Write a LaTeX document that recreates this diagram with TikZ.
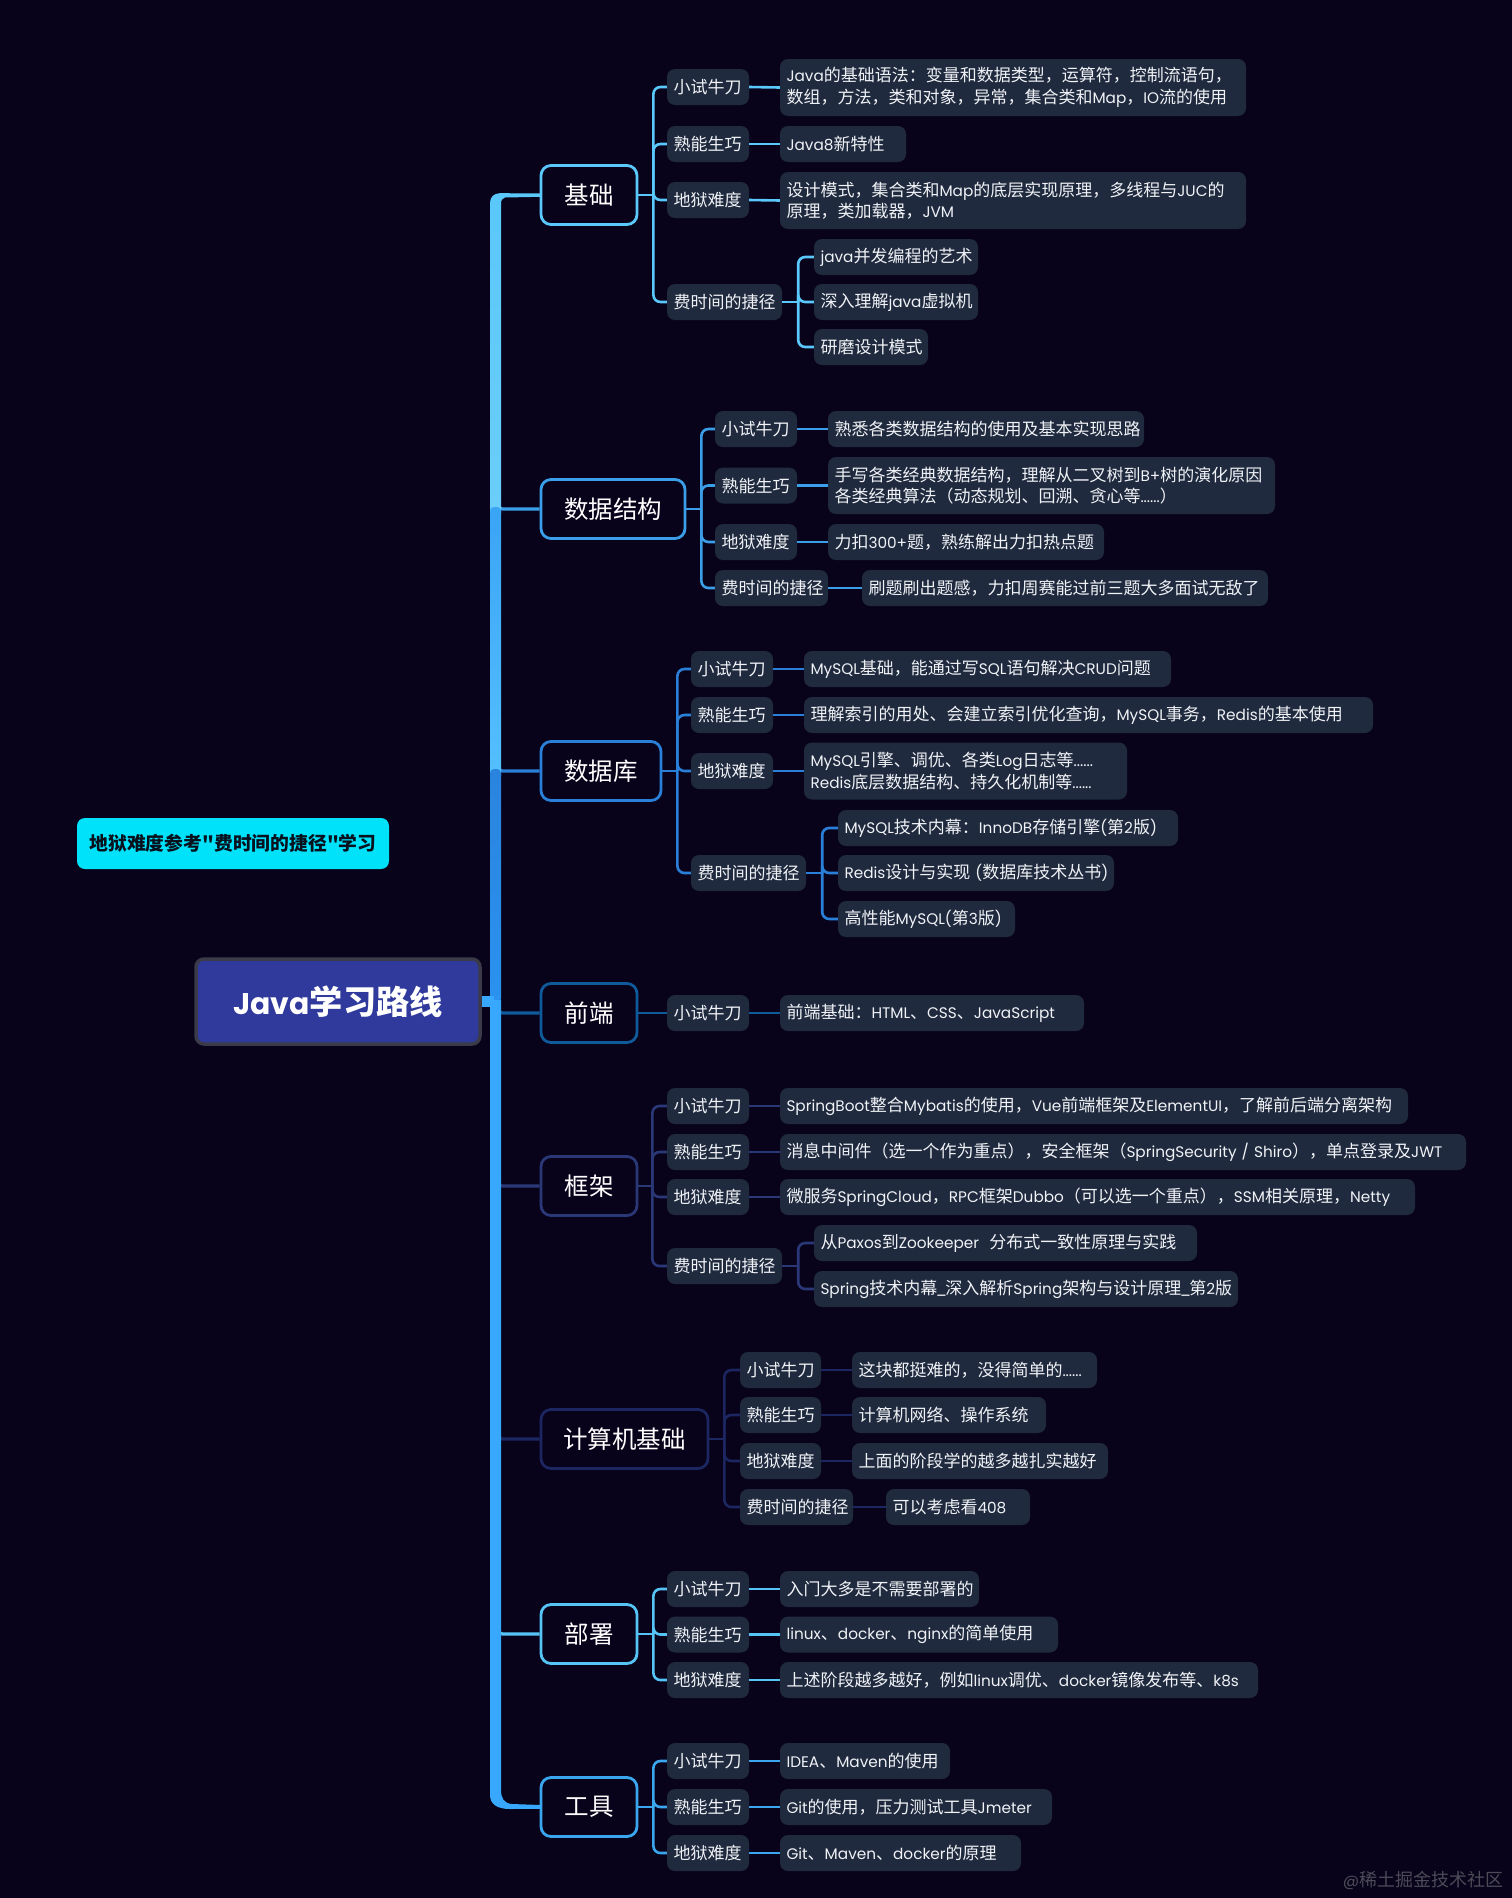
\documentclass[tikz,border=0pt]{standalone}
\usepackage{fontspec}
\setmainfont{Poppins}[Scale=0.9]
\newfontfamily\latfont{Poppins}[Scale=0.9]
\newfontfamily\cjkfont{Noto Sans CJK SC}
\newXeTeXintercharclass\cjkclass
\newcount\cjkc
\def\cjkrange#1#2{\cjkc=#1\relax\loop\XeTeXcharclass\cjkc=\cjkclass\relax\ifnum\cjkc<#2\relax\advance\cjkc by 1\relax\repeat}
\cjkrange{"4E00}{"9FFF}
\cjkrange{"3000}{"303F}
\cjkrange{"FF00}{"FFEF}
\XeTeXcharclass`\"=\cjkclass
\XeTeXinterchartoks 0 \cjkclass = {\cjkfont}
\XeTeXinterchartoks 4095 \cjkclass = {\cjkfont}
\XeTeXinterchartoks \cjkclass 0 = {\latfont}
\XeTeXinterchartoks \cjkclass 4095 = {\latfont}
\XeTeXinterchartoks 4095 0 = {\latfont}
\XeTeXinterchartokenstate=1
\newcommand{\usc}{\makebox[8pt]{\latfont\_}}
\definecolor{bgc}{HTML}{08021A}
\definecolor{subc}{HTML}{1F2A3E}
\definecolor{txtc}{HTML}{F0F2F6}
\definecolor{cA}{HTML}{5AC8FA}
\definecolor{cB}{HTML}{3A9FE8}
\definecolor{cC}{HTML}{2A7FD8}
\definecolor{cD}{HTML}{0F5A9A}
\definecolor{cE}{HTML}{2A3878}
\definecolor{cF}{HTML}{1C2660}
\definecolor{cG}{HTML}{55C4F5}
\definecolor{cH}{HTML}{3AA6EE}
\definecolor{tr}{HTML}{38A8FF}
\definecolor{segBa}{HTML}{3AA4F5}
\definecolor{segBb}{HTML}{55C0FF}
\definecolor{segCa}{HTML}{2A84DE}
\definecolor{segCb}{HTML}{2A92F0}
\definecolor{rootC}{HTML}{2F3A9C}
\definecolor{rootB}{HTML}{3A3A48}
\definecolor{noteC}{HTML}{00E2FA}
\definecolor{noteT}{HTML}{08121E}
\definecolor{wmC}{HTML}{4C4C58}
\tikzset{
 x=1pt,y=-1pt,
 topicbox/.style={rounded corners=10pt,line width=2.8pt,fill=bgc,text=white,inner sep=0pt,minimum height=59pt,font=\fontsize{24.5}{30}\selectfont},
 subbox/.style={rounded corners=8pt,fill=subc,text=txtc,inner sep=0pt,minimum height=36pt,align=left,font=\fontsize{17}{21.5}\selectfont},
 link/.style={line width=2.6pt},
 elbow/.style={line width=2.6pt,rounded corners=7pt},
 branch/.style={line width=3.2pt,rounded corners=5pt},
}
\newcommand{\topic}[6]{\node[topicbox,draw=#1,minimum width={#4-#3}] (#2) at ({(#3+#4)/2},#5) {#6};}
\newcommand{\sub}[6]{\node[subbox,minimum width={#3-#2},text width={#3-#2-13},minimum height=#6] (#1) at ({(#2+#3)/2},#4) {#5};}
\newcommand{\subb}[5]{\sub{#1}{#2}{#3}{#4}{#5}{36pt}}
\newcommand{\conn}[4]{\draw[link,#1] (#2.east) -- ++(#4,0); \draw[elbow,#1] (#2.east) ++(#4,0) |- (#3.west);}
\newcommand{\straight}[3]{\draw[link,#1] (#2.east) -- (#3.west);}
\newcommand{\br}[2]{\draw[branch,#1] (trunktop|-#2.west) ++(2,-9) |- (#2.west);}
\begin{document}
\begin{tikzpicture}
\useasboundingbox (0,0) rectangle (1512,1898);
\fill[bgc] (0,0) rectangle (1512,1898);
\coordinate (trunktop) at (495.5,195);
% ---------- topics
\topic{cA}{t1}{541}{637}{195}{基础}
\topic{cB}{t2}{541}{685}{509}{数据结构}
\topic{cC}{t3}{541}{661}{771}{数据库}
\topic{cD}{t4}{541}{637}{1013}{前端}
\topic{cE}{t5}{541}{637}{1186}{框架}
\topic{cF}{t6}{541}{708}{1439}{计算机基础}
\topic{cG}{t7}{541}{637}{1634}{部署}
\topic{cH}{t8}{541}{637}{1807}{工具}
% ---------- middle branches
\br{cB}{t2}\br{cC}{t3}\br{cD}{t4}\br{cE}{t5}\br{cF}{t6}\br{cG}{t7}
% ---------- trunk
\shade[top color=cA,bottom color=cA!90!white] (490,203) -- (501,203) -- (501,512) -- (490,512) -- cycle;
\fill[cA] (490,203) .. controls (490,197) and (494,193.2) .. (500,193.2) -- (541,193.4) -- (541,196.8) -- (505,197.5) .. controls (502.5,198) and (501,200) .. (501,204) -- cycle;
\shade[top color=segBa,bottom color=segBb,rounded corners=4pt] (490,780) -- (490,507) -- (501,507) -- (501,780) -- cycle;
\shade[top color=segCa,bottom color=segCb,rounded corners=4pt] (490,1003) -- (490,769) -- (501,769) -- (501,1003) -- cycle;
\fill[tr] (490,1000) -- (501,1000) -- (501,1790) .. controls (501,1798) and (504,1803.5) .. (512,1804) -- (541,1805) -- (541,1808.8) -- (510,1809) .. controls (497,1809) and (490,1804) .. (490,1795) -- cycle;
% ---------- root
\node[rounded corners=8pt,line width=3.5pt,draw=rootB,fill=rootC,text=white,minimum width=284pt,minimum height=85pt,inner sep=0pt,font=\fontsize{33.2}{40}\selectfont\bfseries] (root) at (338,1001.5) {Java学习路线};
\fill[tr] (root.east) ++(0,-5.5) rectangle ++(12,11);
% ---------- group 1
\subb{a1}{667}{749}{87}{小试牛刀}
\subb{a2}{667}{749}{144}{熟能生巧}
\subb{a3}{667}{749}{200}{地狱难度}
\subb{a4}{667}{782}{302}{费时间的捷径}
\sub{a1l}{780}{1246}{87.5}{Java的基础语法：变量和数据类型，运算符，控制流语句，\\数组，方法，类和对象，异常，集合类和Map，IO流的使用}{57pt}
\subb{a2l}{780}{906}{144}{Java8新特性}
\sub{a3l}{780}{1246}{200.5}{设计模式，集合类和Map的底层实现原理，多线程与JUC的\\原理，类加载器，JVM}{57pt}
\subb{a4a}{814}{978}{257}{java并发编程的艺术}
\subb{a4b}{814}{978}{302}{深入理解java虚拟机}
\subb{a4c}{814}{928}{347}{研磨设计模式}
\foreach \c in {a1,a2,a3,a4}{\conn{cA}{t1}{\c}{15}}
\straight{cA}{a1}{a1l}\straight{cA}{a2}{a2l}\straight{cA}{a3}{a3l}
\foreach \c in {a4a,a4b,a4c}{\conn{cA}{a4}{\c}{16}}
% ---------- group 2
\subb{b1}{715}{797}{429}{小试牛刀}
\subb{b2}{715}{797}{485.5}{熟能生巧}
\subb{b3}{715}{797}{542}{地狱难度}
\subb{b4}{715}{828}{588}{费时间的捷径}
\subb{b1l}{828}{1144}{429}{熟悉各类数据结构的使用及基本实现思路}
\sub{b2l}{828}{1275}{485.5}{手写各类经典数据结构，理解从二叉树到B+树的演化原因\\各类经典算法（动态规划、回溯、贪心等......）}{57pt}
\subb{b3l}{828}{1104}{542}{力扣300+题，熟练解出力扣热点题}
\subb{b4l}{862}{1268}{588}{刷题刷出题感，力扣周赛能过前三题大多面试无敌了}
\foreach \c in {b1,b2,b3,b4}{\conn{cB}{t2}{\c}{15}}
\straight{cB}{b1}{b1l}\straight{cB}{b2}{b2l}\straight{cB}{b3}{b3l}\straight{cB}{b4}{b4l}
% ---------- group 3
\subb{c1}{691}{773}{669}{小试牛刀}
\subb{c2}{691}{773}{715}{熟能生巧}
\subb{c3}{691}{773}{771}{地狱难度}
\subb{c4}{691}{806}{873}{费时间的捷径}
\subb{c1l}{804}{1171}{669}{MySQL基础，能通过写SQL语句解决CRUD问题}
\subb{c2l}{804}{1373}{715}{理解索引的用处、会建立索引优化查询，MySQL事务，Redis的基本使用}
\sub{c3l}{804}{1127}{771}{MySQL引擎、调优、各类Log日志等......\\Redis底层数据结构、持久化机制等......}{57pt}
\subb{c4a}{838}{1178}{828}{MySQL技术内幕：InnoDB存储引擎(第2版)}
\subb{c4b}{838}{1114}{873}{Redis设计与实现~(数据库技术丛书)}
\subb{c4c}{838}{1015}{919}{高性能MySQL(第3版)}
\foreach \c in {c1,c2,c3,c4}{\conn{cC}{t3}{\c}{15}}
\straight{cC}{c1}{c1l}\straight{cC}{c2}{c2l}\straight{cC}{c3}{c3l}
\foreach \c in {c4a,c4b,c4c}{\conn{cC}{c4}{\c}{16}}
% ---------- group 4
\subb{d1}{667}{749}{1013}{小试牛刀}
\subb{d1l}{780}{1084}{1013}{前端基础：HTML、CSS、JavaScript}
\straight{cD}{t4}{d1}\straight{cD}{d1}{d1l}
% ---------- group 5
\subb{e1}{667}{749}{1106}{小试牛刀}
\subb{e2}{667}{749}{1152}{熟能生巧}
\subb{e3}{667}{749}{1197}{地狱难度}
\subb{e4}{667}{782}{1266}{费时间的捷径}
\subb{e1l}{780}{1408}{1106}{SpringBoot整合Mybatis的使用，Vue前端框架及ElementUI，了解前后端分离架构}
\subb{e2l}{780}{1466}{1152}{消息中间件（选一个作为重点），安全框架（SpringSecurity~/~Shiro），单点登录及JWT}
\subb{e3l}{780}{1415}{1197}{微服务SpringCloud，RPC框架Dubbo（可以选一个重点），SSM相关原理，Netty}
\subb{e4a}{814}{1197}{1243}{从Paxos到Zookeeper~~分布式一致性原理与实践}
\subb{e4b}{814}{1238}{1289}{Spring技术内幕\usc{}深入解析Spring架构与设计原理\usc{}第2版}
\foreach \c in {e1,e2,e3,e4}{\conn{cE}{t5}{\c}{14}}
\straight{cE}{e1}{e1l}\straight{cE}{e2}{e2l}\straight{cE}{e3}{e3l}
\foreach \c in {e4a,e4b}{\conn{cE}{e4}{\c}{16}}
% ---------- group 6
\subb{f1}{740}{821}{1370}{小试牛刀}
\subb{f2}{740}{821}{1415}{熟能生巧}
\subb{f3}{740}{821}{1461}{地狱难度}
\subb{f4}{740}{853}{1507}{费时间的捷径}
\subb{f1l}{852}{1097}{1370}{这块都挺难的，没得简单的......}
\subb{f2l}{852}{1046}{1415}{计算机网络、操作系统}
\subb{f3l}{852}{1108}{1461}{上面的阶段学的越多越扎实越好}
\subb{f4l}{886}{1030}{1507}{可以考虑看408}
\foreach \c in {f1,f2,f3,f4}{\conn{cF}{t6}{\c}{15}}
\straight{cF}{f1}{f1l}\straight{cF}{f2}{f2l}\straight{cF}{f3}{f3l}\straight{cF}{f4}{f4l}
% ---------- group 7
\subb{g1}{667}{749}{1589}{小试牛刀}
\subb{g2}{667}{749}{1634.5}{熟能生巧}
\subb{g3}{667}{749}{1680}{地狱难度}
\subb{g1l}{780}{979}{1589}{入门大多是不需要部署的}
\subb{g2l}{780}{1058}{1634.5}{linux、docker、nginx的简单使用}
\subb{g3l}{780}{1258}{1680}{上述阶段越多越好，例如linux调优、docker镜像发布等、k8s}
\foreach \c in {g1,g2,g3}{\conn{cG}{t7}{\c}{15}}
\straight{cG}{g1}{g1l}\straight{cG}{g2}{g2l}\straight{cG}{g3}{g3l}
% ---------- group 8
\subb{h1}{667}{749}{1761}{小试牛刀}
\subb{h2}{667}{749}{1807}{熟能生巧}
\subb{h3}{667}{749}{1853}{地狱难度}
\subb{h1l}{780}{950}{1761}{IDEA、Maven的使用}
\subb{h2l}{780}{1052}{1807}{Git的使用，压力测试工具Jmeter}
\subb{h3l}{780}{1021}{1853}{Git、Maven、docker的原理}
\foreach \c in {h1,h2,h3}{\conn{cH}{t8}{\c}{15}}
\straight{cH}{h1}{h1l}\straight{cH}{h2}{h2l}\straight{cH}{h3}{h3l}
% ---------- note and watermark
\node[rounded corners=8pt,fill=noteC,text=noteT,minimum width=312pt,minimum height=51pt,inner sep=0pt,font=\fontsize{18.8}{24}\selectfont\bfseries] (note) at (233,843.5) {地狱难度参考"费时间的捷径"学习};
\node[text=wmC,inner sep=0pt,font=\fontsize{18}{22}\selectfont] (wm) at (1423,1880) {@稀土掘金技术社区};
\end{tikzpicture}
\end{document}
